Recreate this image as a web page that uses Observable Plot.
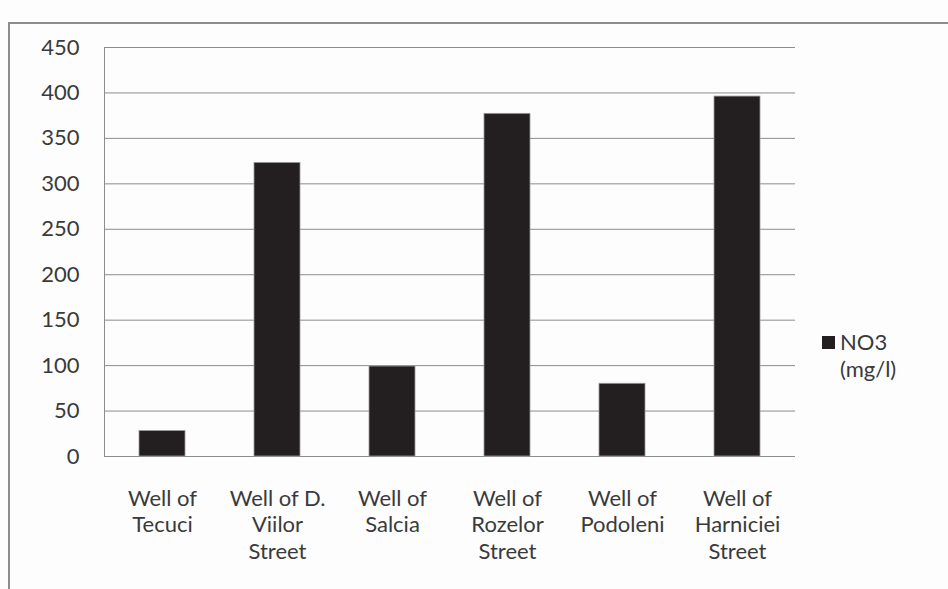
<!DOCTYPE html>
<html><head><meta charset="utf-8">
<script src="https://cdn.jsdelivr.net/npm/d3@7"></script>
<script src="https://cdn.jsdelivr.net/npm/@observablehq/plot@0.6"></script>
<style>
body{margin:0;background:#fdfdfd;width:948px;height:589px;overflow:hidden;position:relative;font-family:Lato,sans-serif}
#frame{position:absolute;left:8px;top:22px;width:1200px;height:800px;border-left:2px solid #8c8c8c;border-top:2px solid #8c8c8c}
#chart{position:absolute;left:0;top:0}
#legend{position:absolute;left:822px;top:328px;font-size:22px;color:#3a3a3a;line-height:27px}
#legend .sw{display:inline-block;width:13px;height:13px;background:#231f20;margin-right:5px;vertical-align:1px}
#legend .l2{padding-left:18px}
</style></head><body>
<div id="frame"></div><div id="chart"></div>
<div id="legend"><div><span class="sw"></span>NO3</div><div class="l2">(mg/l)</div></div>
<script>
const wells = ["Well of\nTecuci","Well of D.\nViilor\nStreet","Well of\nSalcia","Well of\nRozelor\nStreet","Well of\nPodoleni","Well of\nHarniciei\nStreet"];
const no3 = [28,323,99,377,80,396];
const yTicks = [0,50,100,150,200,250,300,350,400,450];
const data = wells.map((w,i)=>({well:w, value:no3[i]}));
const chart = Plot.plot({
  width:948, height:589,
  marginLeft:104, marginRight:153, marginTop:47, marginBottom:133,
  x:{domain:wells, paddingInner:0.6, paddingOuter:0.3, label:null},
  y:{domain:[0,450], label:null},
  style:{background:"transparent", fontFamily:"Lato, sans-serif", fontSize:"22px", color:"#3a3a3a"},
  marks:[
    Plot.gridY(yTicks,{stroke:"#8c8c8c", strokeOpacity:1}),
    Plot.frame({anchor:"left", stroke:"#8c8c8c"}),
    Plot.barY(data,{x:"well", y:"value", fill:"#231f20", stroke:"#999", strokeWidth:0.8}),
    Plot.axisY(yTicks,{tickSize:0, tickPadding:25, fontSize:22, label:null}),
    Plot.axisX({tickSize:0, tickPadding:30, fontSize:22, lineHeight:1.22, label:null})
  ]
});
document.getElementById("chart").appendChild(chart);
</script>
</body></html>
